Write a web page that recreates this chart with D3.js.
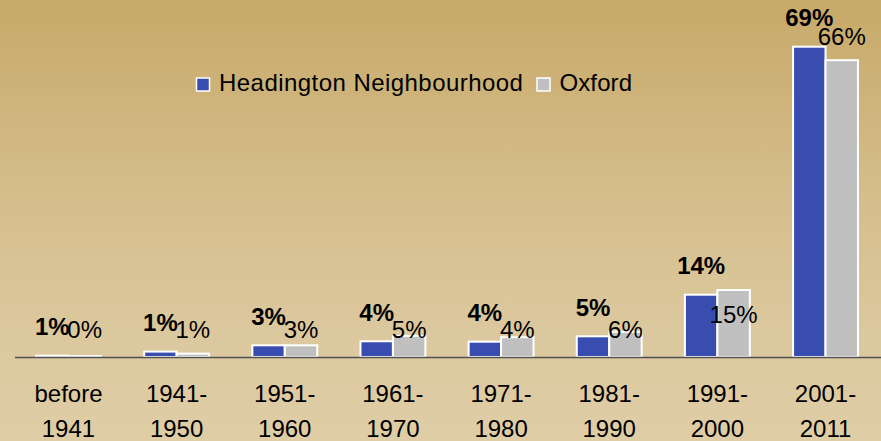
<!DOCTYPE html>
<html>
<head>
<meta charset="utf-8">
<script src="https://cdn.jsdelivr.net/npm/d3@7/dist/d3.min.js"></script>
<style>
  html, body { margin: 0; padding: 0; }
  body { width: 881px; height: 441px; overflow: hidden; }
  text { font-family: "Liberation Sans", Arial, sans-serif; }
</style>
</head>
<body>
<svg id="chart" width="881" height="441"></svg>
<script>
// ---- data ----
const categories = ["before 1941", "1941-1950", "1951-1960", "1961-1970", "1971-1980", "1981-1990", "1991-2000", "2001-2011"];
const categoryLines = [["before", "1941"], ["1941-", "1950"], ["1951-", "1960"], ["1961-", "1970"], ["1971-", "1980"], ["1981-", "1990"], ["1991-", "2000"], ["2001-", "2011"]];
const seriesNames = ["Headington Neighbourhood", "Oxford"];
const headington = [0.3, 1.2, 2.6, 3.5, 3.4, 4.6, 13.85, 69.0];
const oxford = [0.2, 0.75, 2.6, 4.7, 4.4, 5.6, 14.9, 66.0];
const headingtonLabels = ["1%", "1%", "3%", "4%", "4%", "5%", "14%", "69%"];
const oxfordLabels = ["0%", "1%", "3%", "5%", "4%", "6%", "15%", "66%"];

const colors = ["#394db0", "#c0c0c0"];

const svg = d3.select("#chart");
const W = 881, H = 441;

// background gradient
const defs = svg.append("defs");
const grad = defs.append("linearGradient").attr("id", "bg").attr("x1", 0).attr("y1", 0).attr("x2", 0).attr("y2", 1);
grad.append("stop").attr("offset", "0%").attr("stop-color", "#c7a969");
grad.append("stop").attr("offset", "45%").attr("stop-color", "#d5be8c");
grad.append("stop").attr("offset", "75%").attr("stop-color", "#dcc89e");
grad.append("stop").attr("offset", "100%").attr("stop-color", "#dfcda6");
svg.append("rect").attr("width", W).attr("height", H).attr("fill", "url(#bg)");

// scales
const x0 = d3.scaleBand().domain(categories).range([14.4, 879.6]).paddingInner(0.4).paddingOuter(0.2);
const x1 = d3.scaleBand().domain(seriesNames).range([0, x0.bandwidth()]).padding(0);
const y = d3.scaleLinear().domain([0, 70]).range([357, 357 - 70 * 4.497]);

const rows = categories.map((c, i) => ({
  cat: c, lines: categoryLines[i],
  vals: [
    { s: seriesNames[0], v: headington[i], lab: headingtonLabels[i] },
    { s: seriesNames[1], v: oxford[i], lab: oxfordLabels[i] }
  ]
}));

// bars
const g = svg.append("g");
const groups = g.selectAll("g.grp").data(rows).join("g")
  .attr("class", "grp")
  .attr("transform", d => `translate(${x0(d.cat)},0)`);

groups.selectAll("rect").data(d => d.vals).join("rect")
  .attr("x", d => x1(d.s))
  .attr("y", d => y(d.v))
  .attr("width", x1.bandwidth())
  .attr("height", d => y(0) - y(d.v))
  .attr("fill", (d, i) => colors[i])
  .attr("stroke", "#ffffff")
  .attr("stroke-width", 2);

// axis line (category axis)
const xAxis = d3.axisBottom(x0).tickSize(0).tickFormat("");
const axG = svg.append("g").attr("transform", `translate(0,${y(0)})`).call(xAxis);
axG.select(".domain").attr("stroke", "#505050").attr("stroke-width", 1.5)
  .attr("d", `M15,0.5H881`);

// category labels (two lines)
const catText = svg.append("g").selectAll("text").data(rows).join("text")
  .attr("x", d => x0(d.cat) + x0.bandwidth() / 2)
  .attr("text-anchor", "middle")
  .attr("font-size", 24)
  .attr("fill", "#000");
catText.selectAll("tspan").data(d => d.lines).join("tspan")
  .attr("x", function () { return d3.select(this.parentNode).attr("x"); })
  .attr("y", (d, i) => i === 0 ? 401.5 : 436.5)
  .text(d => d);

// data labels
const lblG = svg.append("g");
rows.forEach(r => {
  const cx = x0(r.cat);
  const h = r.vals[0], o = r.vals[1];
  const hy = y(h.v) - 20.5;
  lblG.append("text")
    .attr("x", cx + x1(h.s) + x1.bandwidth() / 2)
    .attr("y", hy)
    .attr("text-anchor", "middle")
    .attr("font-size", 24).attr("font-weight", "bold").attr("fill", "#000")
    .text(h.lab);
  // Oxford label: small bars share a row above the axis; otherwise outside end,
  // moved inside the bar if it would collide with the neighbouring label
  let oy;
  if (y(0) - y(o.v) < 30) oy = y(0) - 19;
  else {
    oy = y(o.v) - 15;
    if (Math.abs(oy - hy) < 15) oy = y(o.v) + 33;
  }
  lblG.append("text")
    .attr("x", cx + x1(o.s) + x1.bandwidth() / 2)
    .attr("y", oy)
    .attr("text-anchor", "middle")
    .attr("font-size", 24).attr("fill", "#000")
    .text(o.lab);
});

// legend
const legend = svg.append("g");
const legendX = [196.5, 537];
seriesNames.forEach((s, i) => {
  legend.append("rect")
    .attr("x", legendX[i]).attr("y", 78)
    .attr("width", 13).attr("height", 13)
    .attr("fill", colors[i]).attr("stroke", "#fff").attr("stroke-width", 1.5);
  legend.append("text")
    .attr("x", legendX[i] + 22.5).attr("y", 91)
    .attr("font-size", 24).attr("fill", "#000")
    .attr("letter-spacing", i === 0 ? 0.45 : 0.1)
    .text(s);
});
</script>
</body>
</html>
